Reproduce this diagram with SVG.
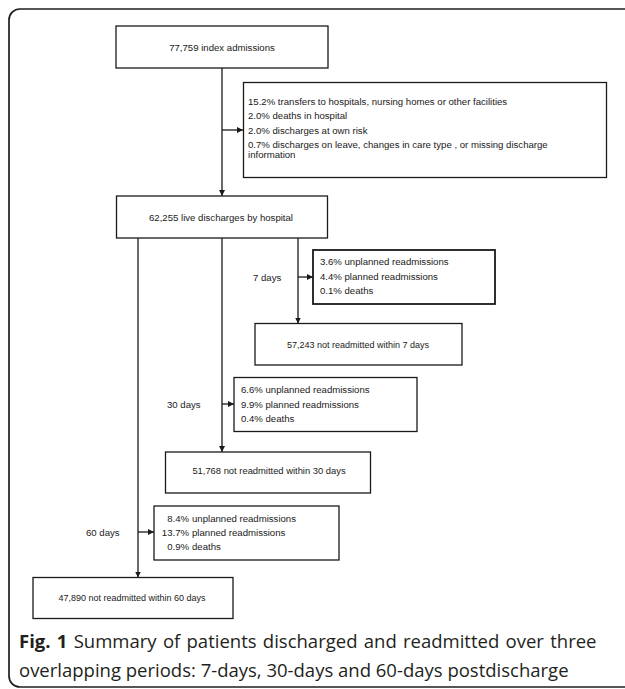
<svg xmlns="http://www.w3.org/2000/svg" width="625" height="689" viewBox="0 0 625 689">
<style>
  .box { fill: #ffffff; stroke: #1a1a1a; stroke-width: 1.3; }
  .t { font-family: "Liberation Sans", Arial, sans-serif; font-size: 9.6px; fill: #1a1a1a; }
  .n { font-size: 9px; }
  .c { text-anchor: middle; }
  .conn line { stroke: #1a1a1a; stroke-width: 1.3; fill: none; }
  .cap { font-family: "Open Sans", "Noto Sans", sans-serif; font-size: 18.5px; fill: #231f20; }
</style>
<defs>
  <marker id="arr" viewBox="0 0 10 10" refX="10" refY="5" markerWidth="6" markerHeight="6" markerUnits="userSpaceOnUse" orient="auto">
    <path d="M0,0 L10,5 L0,10 z" fill="#1a1a1a"/>
  </marker>
</defs>
<rect x="0" y="0" width="625" height="689" fill="#ffffff"/>
<path id="frame" d="M 626 9 H 20 A 11 11 0 0 0 9 20 V 676 A 11 11 0 0 0 20 687 H 626" fill="none" stroke="#1f1f1f" stroke-width="1.7"/>

<g id="connectors" class="conn">
  <line x1="222" y1="68" x2="222" y2="196" marker-end="url(#arr)"/>
  <line x1="222" y1="130" x2="243" y2="130" marker-end="url(#arr)"/>
  <line x1="298" y1="238" x2="298" y2="323.5" marker-end="url(#arr)"/>
  <line x1="298" y1="277" x2="313" y2="277" marker-end="url(#arr)"/>
  <line x1="222" y1="238" x2="222" y2="452" marker-end="url(#arr)"/>
  <line x1="222" y1="404" x2="234" y2="404" marker-end="url(#arr)"/>
  <line x1="138" y1="238" x2="138" y2="577.5" marker-end="url(#arr)"/>
  <line x1="138" y1="532" x2="154" y2="532" marker-end="url(#arr)"/>
</g>

<g id="n-index">
  <rect class="box" x="116" y="26" width="212" height="42"/>
  <text class="t c" x="222" y="50.5">77,759 index admissions</text>
</g>

<g id="n-excluded">
  <rect class="box" x="243.5" y="82.5" width="363" height="95"/>
  <text class="t" x="248" y="104.5">15.2% transfers to hospitals, nursing homes or other facilities</text>
  <text class="t" x="248" y="119">2.0% deaths in hospital</text>
  <text class="t" x="248" y="134">2.0% discharges at own risk</text>
  <text class="t" x="248" y="148">0.7% discharges on leave, changes in care type , or missing discharge</text>
  <text class="t" x="248" y="158">information</text>
</g>

<g id="n-live">
  <rect class="box" x="116.5" y="196" width="211" height="42"/>
  <text class="t c" x="221" y="220.5">62,255 live discharges by hospital</text>
</g>

<g id="l-7">
  <text class="t" x="253" y="280.5">7 days</text>
</g>
<g id="n-7events">
  <rect class="box" x="313" y="250" width="182" height="54" style="stroke-width:1.8"/>
  <text class="t" x="320" y="265">3.6% unplanned readmissions</text>
  <text class="t" x="320" y="279.5">4.4% planned readmissions</text>
  <text class="t" x="320" y="294">0.1% deaths</text>
</g>
<g id="n-7not">
  <rect class="box" x="255" y="323.5" width="207" height="41.5"/>
  <text class="t n c" x="358" y="347.5">57,243 not readmitted within 7 days</text>
</g>

<g id="l-30">
  <text class="t" x="167" y="407.5">30 days</text>
</g>
<g id="n-30events">
  <rect class="box" x="234" y="377.5" width="183" height="54"/>
  <text class="t" x="241" y="393">6.6% unplanned readmissions</text>
  <text class="t" x="241" y="407.5">9.9% planned readmissions</text>
  <text class="t" x="241" y="422">0.4% deaths</text>
</g>
<g id="n-30not">
  <rect class="box" x="165.5" y="452" width="205" height="41"/>
  <text class="t c" x="269" y="474" style="font-size:9.4px">51,768 not readmitted within 30 days</text>
</g>

<g id="l-60">
  <text class="t" x="86" y="535.5">60 days</text>
</g>
<g id="n-60events">
  <rect class="box" x="154" y="506" width="185" height="54"/>
  <text class="t" y="521.5"><tspan x="189" text-anchor="end">8.4%</tspan><tspan x="192">unplanned readmissions</tspan></text>
  <text class="t" y="535.5"><tspan x="189" text-anchor="end">13.7%</tspan><tspan x="192">planned readmissions</tspan></text>
  <text class="t" y="550"><tspan x="189" text-anchor="end">0.9%</tspan><tspan x="192">deaths</tspan></text>
</g>
<g id="n-60not">
  <rect class="box" x="33" y="577.5" width="200" height="41"/>
  <text class="t n c" x="132" y="600.5">47,890 not readmitted within 60 days</text>
</g>

<g id="caption">
  <text class="cap" x="19" y="648" style="word-spacing:1.5px"><tspan font-weight="bold">Fig. 1</tspan> Summary of patients discharged and readmitted over three</text>
  <text class="cap" x="19" y="677">overlapping periods: 7-days, 30-days and 60-days postdischarge</text>
</g>
</svg>
